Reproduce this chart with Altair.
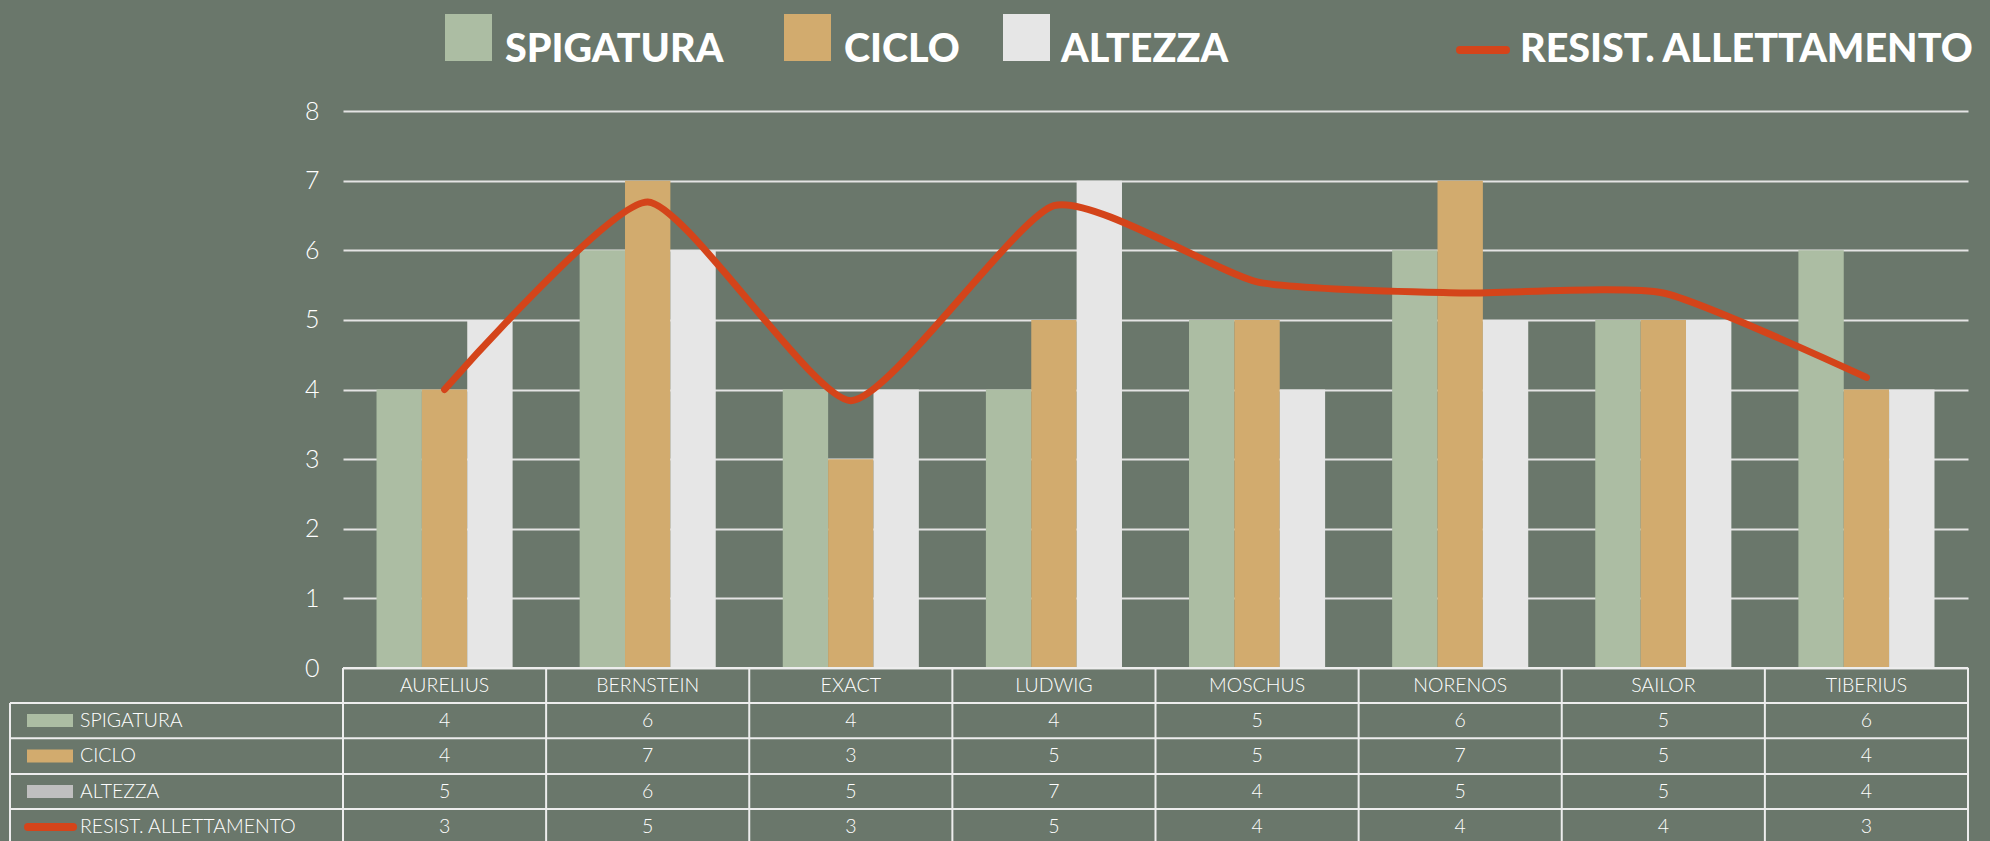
import altair as alt
import pandas as pd

# ---------------- data ----------------
categories = ["AURELIUS", "BERNSTEIN", "EXACT", "LUDWIG", "MOSCHUS", "NORENOS", "SAILOR", "TIBERIUS"]
series = ["SPIGATURA", "CICLO", "ALTEZZA"]
spigatura = [4, 6, 4, 4, 5, 6, 5, 6]
ciclo = [4, 7, 3, 5, 5, 7, 5, 4]
altezza = [5, 6, 4, 7, 4, 5, 5, 4]            # bar heights as drawn
altezza_table = [5, 6, 5, 7, 4, 5, 5, 4]      # values printed in the table
line_name = "RESIST. ALLETTAMENTO"
resist = [3.0, 5.02, 2.88, 4.98, 4.16, 4.04, 4.04, 3.13]   # secondary (hidden) axis 0-6
y_ticks = [0, 1, 2, 3, 4, 5, 6, 7, 8]

# ---------------- style ----------------
BG = "#6A776B"
GREEN = "#ACBDA3"
TAN = "#D2AB6E"
LIGHT = "#E6E6E6"
TABLE_GREY = "#BFBFBF"
RED = "#D4441A"
GRID = "#E4E4E4"
WHITE = "#FFFFFF"
FONT = "Lato"
TFS = 19.5   # table font size
LFS = 39.5   # legend font size

W, H = 1625, 557
PAD = {"left": 343, "top": 111, "right": 22, "bottom": 173}

bar_colors = [GREEN, TAN, LIGHT]
swatch_colors = [GREEN, TAN, TABLE_GREY]

dummy = pd.DataFrame({"k": [0]})

bars_df = pd.DataFrame(
    [{"cat": c, "series": s, "value": v}
     for s, vals in zip(series, [spigatura, ciclo, altezza])
     for c, v in zip(categories, vals)]
)
line_df = pd.DataFrame({"cat": categories, "value": resist})

row_names = series + [line_name]
table_rows = []
for name, vals in zip(row_names, [spigatura, ciclo, altezza_table, resist]):
    for c, v in zip(categories, vals):
        table_rows.append({"row": name, "cat": c, "txt": f"{v:.0f}"})
table_df = pd.DataFrame(table_rows)
header_df = pd.DataFrame({"cat": categories})
rowlab_df = pd.DataFrame({"row": row_names})

x_enc = alt.X("cat:N", sort=categories, axis=None,
              scale=alt.Scale(paddingInner=0.33, paddingOuter=0.165))

bars = alt.Chart(bars_df).mark_bar().encode(
    x=x_enc,
    xOffset=alt.XOffset("series:N", sort=series,
                        scale=alt.Scale(paddingInner=0, paddingOuter=0)),
    y=alt.Y("value:Q", scale=alt.Scale(domain=[0, 8], nice=False),
            axis=alt.Axis(values=y_ticks, title=None, domain=False, ticks=False,
                          grid=True, gridColor=GRID, gridWidth=2,
                          labelFont=FONT, labelFontSize=25, labelFontWeight=300,
                          labelColor=WHITE, labelPadding=24)),
    color=alt.Color("series:N", scale=alt.Scale(domain=series, range=bar_colors), legend=None),
)

line = alt.Chart(line_df).mark_line(
    color=RED, strokeWidth=7, interpolate="cardinal", tension=0.45, strokeCap="round"
).encode(
    x=x_enc,
    y=alt.Y("value:Q", scale=alt.Scale(domain=[0, 6], nice=False), axis=None),
)

# ---------------- table ----------------
ROW_Y = [609.5, 645, 680.5, 716]
HEADER_Y = 574.5

header = alt.Chart(header_df).mark_text(
    font=FONT, fontSize=TFS, fontWeight=300, color=WHITE, baseline="middle", align="center"
).encode(x=x_enc, text="cat:N", y=alt.value(HEADER_Y))

cells = alt.Chart(table_df).mark_text(
    font=FONT, fontSize=TFS, fontWeight=300, color=WHITE, baseline="middle", align="center"
).encode(
    x=x_enc,
    y=alt.Y("row:N", scale=alt.Scale(domain=row_names, range=[ROW_Y[0], ROW_Y[-1]], padding=0), axis=None),
    text="txt:N",
)

row_labels = alt.Chart(rowlab_df).mark_text(
    font=FONT, fontSize=TFS, fontWeight=300, color=WHITE, baseline="middle", align="left"
).encode(
    x=alt.value(-263),
    y=alt.Y("row:N", scale=alt.Scale(domain=row_names, range=[ROW_Y[0], ROW_Y[-1]], padding=0), axis=None),
    text="row:N",
)

layers = [bars, line, header, cells, row_labels]

# row swatches
for i, col in enumerate(swatch_colors):
    layers.append(alt.Chart(dummy).mark_rect(color=col).encode(
        x=alt.value(-316), x2=alt.value(-270),
        y=alt.value(ROW_Y[i] - 6.5), y2=alt.value(ROW_Y[i] + 6.5)))
layers.append(alt.Chart(dummy).mark_rule(color=RED, strokeWidth=8, strokeCap="round").encode(
    x=alt.value(-315), x2=alt.value(-270), y=alt.value(ROW_Y[3])))

# table borders
LINE_C = "#EDEDED"
step = W / len(categories)
layers.append(alt.Chart(dummy).mark_rule(color=LINE_C, strokeWidth=2).encode(
    x=alt.value(0), x2=alt.value(W), y=alt.value(H)))
for yy in [592, 627.3, 663, 698]:
    layers.append(alt.Chart(dummy).mark_rule(color=LINE_C, strokeWidth=2).encode(
        x=alt.value(-333), x2=alt.value(W), y=alt.value(yy)))
for i in range(len(categories) + 1):
    layers.append(alt.Chart(dummy).mark_rule(color=LINE_C, strokeWidth=2).encode(
        x=alt.value(i * step), y=alt.value(H), y2=alt.value(740)))
layers.append(alt.Chart(dummy).mark_rule(color=LINE_C, strokeWidth=2).encode(
    x=alt.value(-333), y=alt.value(592), y2=alt.value(740)))

# ---------------- top legend ----------------
LEG_SW_X = [102, 441, 660]
LEG_TX_X = [162, 501, 718, 1177]
for i, (name, col) in enumerate(zip(series, bar_colors)):
    layers.append(alt.Chart(dummy).mark_rect(color=col).encode(
        x=alt.value(LEG_SW_X[i]), x2=alt.value(LEG_SW_X[i] + 47),
        y=alt.value(-97), y2=alt.value(-50)))
    layers.append(alt.Chart(dummy).mark_text(
        text=name, font=FONT, fontSize=LFS, fontWeight=900, color=WHITE,
        align="left", baseline="alphabetic"
    ).encode(x=alt.value(LEG_TX_X[i]), y=alt.value(-49)))
layers.append(alt.Chart(dummy).mark_rule(color=RED, strokeWidth=8, strokeCap="round").encode(
    x=alt.value(1117), x2=alt.value(1163), y=alt.value(-61)))
layers.append(alt.Chart(dummy).mark_text(
    text=line_name, font=FONT, fontSize=LFS, fontWeight=900, color=WHITE,
    align="left", baseline="alphabetic"
).encode(x=alt.value(LEG_TX_X[3]), y=alt.value(-49)))

chart = alt.layer(*layers).resolve_scale(y="independent").properties(
    width=W, height=H,
    autosize=alt.AutoSizeParams(type="none"),
    padding=PAD,
    background=BG,
).configure_view(stroke=None)

chart.save("out.html", embed_options={"renderer": "svg", "actions": False})
